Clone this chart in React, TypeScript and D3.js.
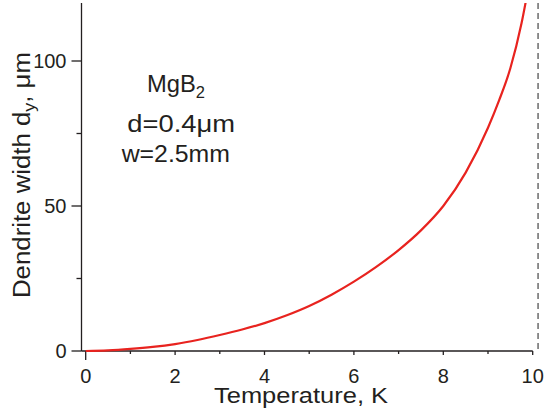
import React from "react";
import * as d3 from "d3";

const temperature = [0, 0.5, 1, 1.5, 2, 2.5, 3, 3.5, 4, 4.5, 5, 5.5, 6, 6.5, 7, 7.5, 8, 8.5, 9, 9.25, 9.5, 9.75, 9.9];
const width_um = [0, 0.2, 0.7, 1.4, 2.4, 3.8, 5.5, 7.4, 9.6, 12.3, 15.5, 19.4, 23.9, 29, 34.8, 41.6, 50, 61.5, 77, 86.5, 97.5, 113, 125];
const criticalT = 10.12;
const xMajorTicks = [0, 2, 4, 6, 8, 10];
const xMinorTicks = [1, 3, 5, 7, 9];
const yMajorTicks = [0, 50, 100];
const yMinorTicks = [25, 75];
const annotation = ["d=0.4\u03bcm", "w=2.5mm"];

const W = 544;
const H = 412;
const FONT = "'Liberation Sans', Arial, Helvetica, sans-serif";
const INK = "#231f20";

export default function App() {
  const x = d3.scaleLinear().domain([0, 10]).range([85.7, 532.7]);
  const y = d3.scaleLinear().domain([0, 100]).range([351, 61]);
  const xAxisStart = 81.5;
  const yTop = y(120);

  const pts: [number, number][] = temperature.map((t, i) => [t, width_um[i]]);
  const line = d3
    .line<[number, number]>()
    .x((d) => x(d[0]))
    .y((d) => y(d[1]))
    .curve(d3.curveMonotoneX);

  return (
    <svg
      width={W}
      height={H}
      style={{ position: "absolute", left: 0, top: 0, background: "#fff" }}
      fontFamily={FONT}
    >
      <defs>
        <clipPath id="plotClip">
          <rect x={xAxisStart} y={yTop} width={W - xAxisStart} height={y(0) - yTop + 2} />
        </clipPath>
      </defs>

      {/* dashed critical line */}
      <line
        x1={x(criticalT)}
        x2={x(criticalT)}
        y1={yTop}
        y2={y(0)}
        stroke="#6b6b6b"
        strokeWidth={1.5}
        strokeDasharray="6,4"
      />

      {/* axes */}
      <line x1={xAxisStart} x2={xAxisStart} y1={yTop} y2={y(0)} stroke={INK} strokeWidth={1.3} />
      <line x1={xAxisStart} x2={x(10)} y1={y(0)} y2={y(0)} stroke={INK} strokeWidth={1.3} />

      {/* y ticks */}
      {yMajorTicks.map((v) => (
        <g key={"ym" + v}>
          <line x1={xAxisStart - 10} x2={xAxisStart} y1={y(v)} y2={y(v)} stroke={INK} strokeWidth={1.3} />
          <text x={66.5} y={y(v)} dy="0.36em" textAnchor="end" fontSize={20} fill={INK}>
            {v}
          </text>
        </g>
      ))}
      {yMinorTicks.map((v) => (
        <line key={"yn" + v} x1={xAxisStart - 5} x2={xAxisStart} y1={y(v)} y2={y(v)} stroke={INK} strokeWidth={1.3} />
      ))}

      {/* x ticks */}
      {xMajorTicks.map((v) => (
        <g key={"xm" + v}>
          <line x1={x(v)} x2={x(v)} y1={y(0)} y2={y(0) + (v === 0 ? 9 : 4)} stroke={INK} strokeWidth={1.3} />
          <text x={x(v)} y={383.3} textAnchor="middle" fontSize={20} fill={INK}>
            {v}
          </text>
        </g>
      ))}
      {xMinorTicks.map((v) => (
        <line key={"xn" + v} x1={x(v)} x2={x(v)} y1={y(0)} y2={y(0) + 3} stroke={INK} strokeWidth={1.3} />
      ))}

      {/* curve */}
      <path d={line(pts) || ""} fill="none" stroke="#e8231f" strokeWidth={2.2} clipPath="url(#plotClip)" />

      {/* axis titles */}
      <text x={301} y={402.5} textAnchor="middle" fontSize={22} fill={INK} textLength={174} lengthAdjust="spacingAndGlyphs">
        Temperature, K
      </text>
      <text
        transform="translate(30,175) rotate(-90)"
        textAnchor="middle"
        fontSize={23}
        fill={INK}
        textLength={246}
        lengthAdjust="spacingAndGlyphs"
      >
        Dendrite width d
        <tspan fontSize={16} dy={5}>y</tspan>
        <tspan dy={-5}>, {"\u03bc"}m</tspan>
      </text>

      {/* annotation */}
      <text x={147} y={91.7} fontSize={23} fill={INK} textLength={58} lengthAdjust="spacingAndGlyphs">
        MgB
        <tspan fontSize={16} dy={6}>2</tspan>
      </text>
      {annotation.map((s, i) => (
        <text
          key={s}
          x={i === 0 ? 127.3 : 121.7}
          y={131.7 + i * 30}
          fontSize={23}
          fill={INK}
          textLength={i === 0 ? 107.7 : 108.3}
          lengthAdjust="spacingAndGlyphs"
        >
          {s}
        </text>
      ))}
    </svg>
  );
}
